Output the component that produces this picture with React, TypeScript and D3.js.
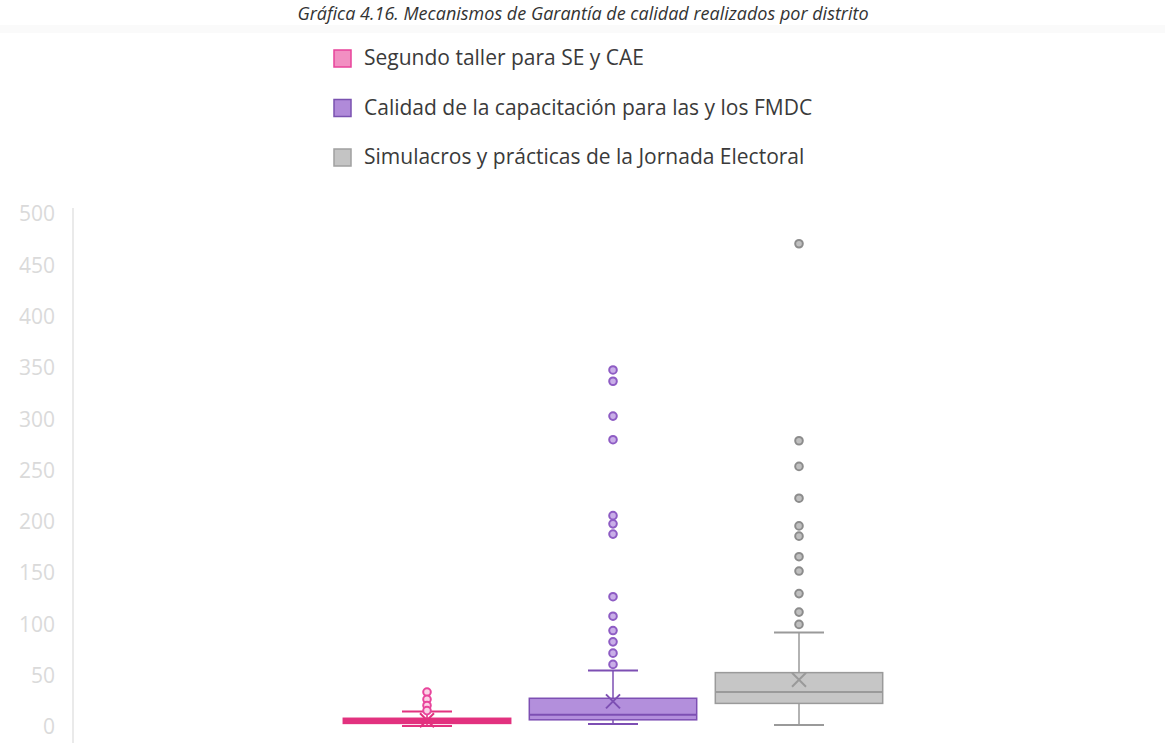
import { useRef, useEffect } from "react";
import * as d3 from "d3";

// series, one entry per box
const categories = [
  "Segundo taller para SE y CAE",
  "Calidad de la capacitación para las y los FMDC",
  "Simulacros y prácticas de la Jornada Electoral",
];
const whiskerLow = [1, 3, 2];
const q1 = [3.5, 7, 23];
const median = [5.5, 12, 34];
const q3 = [8.5, 28, 53];
const whiskerHigh = [15, 55, 92];
const means = [6.5, 25, 46];
const outliers = [
  [34, 27, 21, 16],
  [348, 337, 303, 280, 206, 198, 188, 127, 108, 94, 83, 72, 61],
  [471, 279, 254, 223, 196, 186, 166, 152, 130, 112, 100],
];
const yTicks = [0, 50, 100, 150, 200, 250, 300, 350, 400, 450, 500];

const boxFill = ["#e2327f", "#b38fdc", "#c6c6c6"];
const boxStroke = ["#e2327f", "#7d4fb3", "#9a9a9a"];
const dotFill = ["#fbd3e6", "#c9aee8", "#c0c0c0"];
const dotStroke = ["#e8459c", "#8e5cc4", "#8c8c8c"];
const legendFill = ["#f28fc2", "#b08ad9", "#c4c4c4"];
const legendStroke = ["#e8439a", "#7a52b0", "#a0a0a0"];

const title =
  "Gráfica 4.16. Mecanismos de Garantía de calidad realizados por distrito";

export default function App() {
  const svgRef = useRef<SVGSVGElement>(null);
  const width = 1165;
  const height = 751;

  useEffect(() => {
    const svg = d3.select(svgRef.current);
    svg.selectAll("*").remove();

    svg.append("rect").attr("width", width).attr("height", height).attr("fill", "#fff");
    // faint band under the title
    svg.append("rect").attr("x", 0).attr("y", 25).attr("width", width).attr("height", 8).attr("fill", "#fafafa");

    svg
      .append("text")
      .attr("x", 583)
      .attr("y", 20)
      .attr("text-anchor", "middle")
      .attr("font-family", "Open Sans")
      .attr("font-style", "italic")
      .attr("font-size", 18)
      .attr("fill", "#333")
      .text(title);

    // Legend
    const legend = svg.append("g").attr("transform", "translate(333, 58)");
    categories.forEach((c, i) => {
      const row = legend.append("g").attr("transform", `translate(0, ${i * 49.5})`);
      row
        .append("rect")
        .attr("x", 1)
        .attr("y", -8)
        .attr("width", 17)
        .attr("height", 17)
        .attr("fill", legendFill[i])
        .attr("stroke", legendStroke[i])
        .attr("stroke-width", 1.5);
      row
        .append("text")
        .attr("x", 31)
        .attr("y", 0)
        .attr("dy", "0.35em")
        .attr("font-family", "Open Sans")
        .attr("font-size", 21)
        .attr("fill", "#3a3a3a")
        .text(c);
    });

    // Scales
    const y = d3.scaleLinear().domain([0, 500]).range([727, 214]);
    const x = d3
      .scaleBand()
      .domain(categories)
      .range([334, 892])
      .paddingInner(0.1)
      .paddingOuter(0.05);
    const bw = x.bandwidth();

    // Axis
    const axis = svg.append("g").attr("transform", "translate(73,0)");
    axis
      .append("line")
      .attr("y1", 208)
      .attr("y2", 743)
      .attr("stroke", "#e3e3e3")
      .attr("stroke-width", 1.5);
    axis
      .selectAll("text")
      .data(yTicks)
      .enter()
      .append("text")
      .attr("x", -18)
      .attr("y", (d) => y(d))
      .attr("dy", "0.35em")
      .attr("text-anchor", "end")
      .attr("font-family", "Open Sans")
      .attr("font-size", 21)
      .attr("fill", "#dadada")
      .text((d) => d);

    // Boxes
    categories.forEach((c, i) => {
      const g = svg.append("g");
      const cx = (x(c) as number) + bw / 2;
      const ww = 50;

      // whiskers
      g.append("line")
        .attr("x1", cx).attr("x2", cx)
        .attr("y1", y(whiskerHigh[i])).attr("y2", y(q3[i]))
        .attr("stroke", boxStroke[i]).attr("stroke-width", 1.5);
      g.append("line")
        .attr("x1", cx).attr("x2", cx)
        .attr("y1", y(q1[i])).attr("y2", y(whiskerLow[i]))
        .attr("stroke", boxStroke[i]).attr("stroke-width", 1.5);
      [whiskerHigh[i], whiskerLow[i]].forEach((v) => {
        g.append("line")
          .attr("x1", cx - ww / 2).attr("x2", cx + ww / 2)
          .attr("y1", y(v)).attr("y2", y(v))
          .attr("stroke", boxStroke[i]).attr("stroke-width", 2);
      });

      // box
      g.append("rect")
        .attr("x", x(c) as number)
        .attr("y", y(q3[i]))
        .attr("width", bw)
        .attr("height", y(q1[i]) - y(q3[i]))
        .attr("fill", boxFill[i])
        .attr("stroke", boxStroke[i])
        .attr("stroke-width", 1.5);
      g.append("line")
        .attr("x1", x(c) as number).attr("x2", (x(c) as number) + bw)
        .attr("y1", y(median[i])).attr("y2", y(median[i]))
        .attr("stroke", boxStroke[i]).attr("stroke-width", 2);

      // mean marker
      const my = y(means[i]);
      const s = 7;
      g.append("path")
        .attr("d", `M${cx - s},${my - s}L${cx + s},${my + s}M${cx - s},${my + s}L${cx + s},${my - s}`)
        .attr("stroke", boxStroke[i])
        .attr("stroke-width", 2)
        .attr("fill", "none");

      // outliers
      g.selectAll("circle")
        .data(outliers[i])
        .enter()
        .append("circle")
        .attr("cx", cx)
        .attr("cy", (d) => y(d))
        .attr("r", 3.8)
        .attr("fill", dotFill[i])
        .attr("stroke", dotStroke[i])
        .attr("stroke-width", 2);
    });
  }, []);

  return (
    <svg
      ref={svgRef}
      width={width}
      height={height}
      style={{ position: "absolute", left: 0, top: 0 }}
    />
  );
}
